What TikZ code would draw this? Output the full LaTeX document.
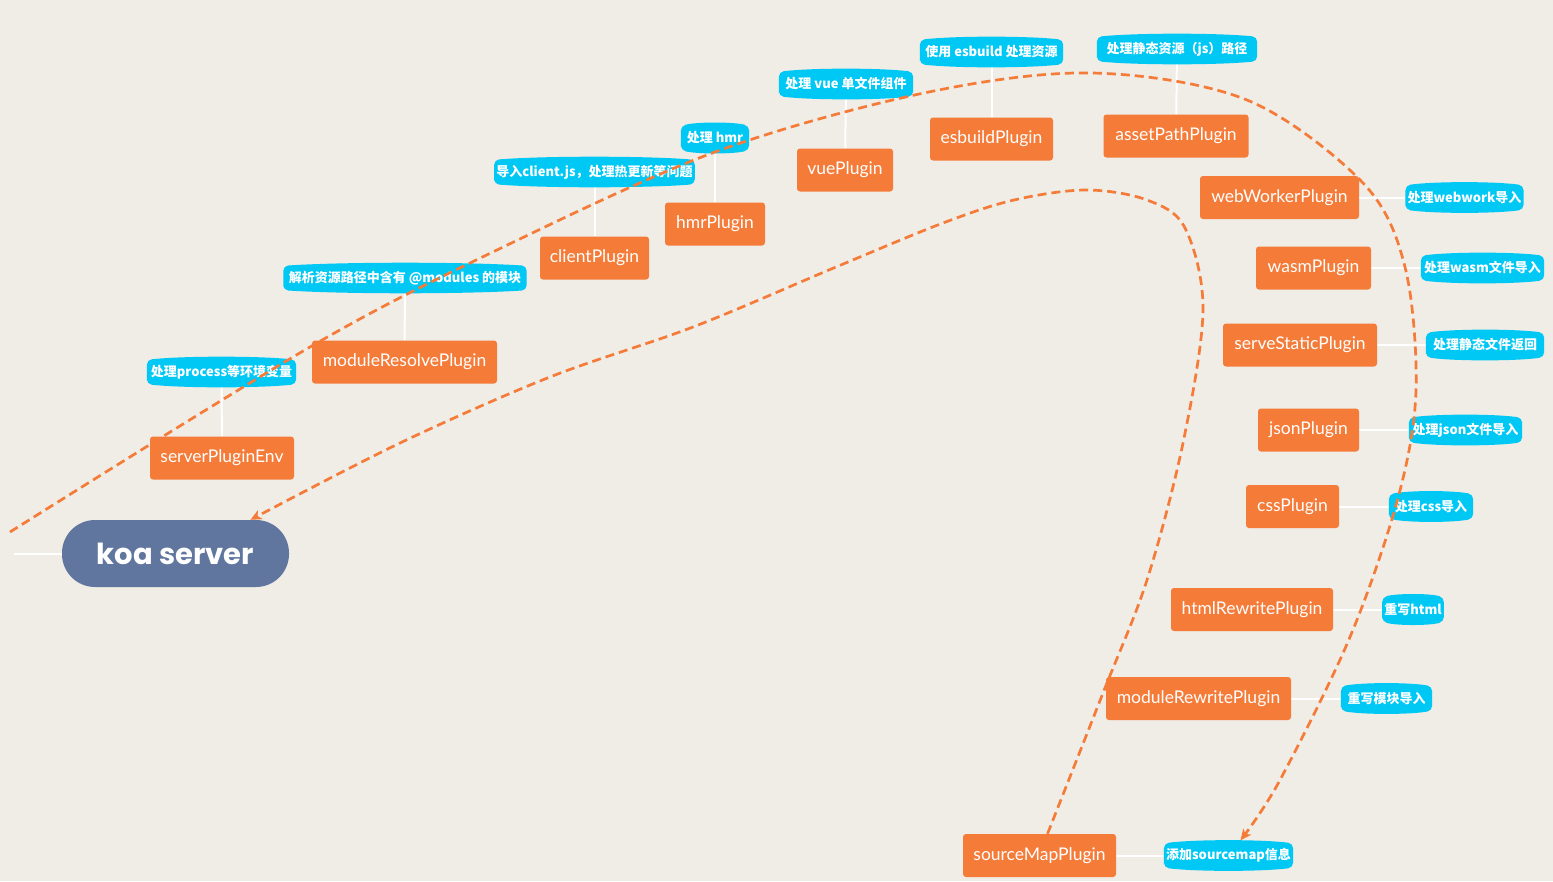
\documentclass[tikz,border=0pt]{standalone}
\usepackage{fontspec}
\setmainfont{Lato}
\newfontfamily\cjk{Noto Sans CJK SC}
\newfontfamily\koafont{Poppins}
\usetikzlibrary{arrows.meta,calc,backgrounds}
\definecolor{bgc}{HTML}{F0ECE6}
\definecolor{orc}{HTML}{F57B39}
\definecolor{blc}{HTML}{00C8F5}
\definecolor{koac}{HTML}{60769E}
\newcommand{\bulgebox}[1]{\fill[blc, rounded corners=5pt] (#1.south west) -- (#1.north west)
  .. controls ($(#1.north west)!0.25!(#1.north east)+(0,-4)$) and ($(#1.north west)!0.75!(#1.north east)+(0,-4)$) .. (#1.north east)
  -- (#1.south east)
  .. controls ($(#1.south west)!0.75!(#1.south east)+(0,4)$) and ($(#1.south west)!0.25!(#1.south east)+(0,4)$) .. cycle;}
\begin{document}
\begin{tikzpicture}[x=1pt,y=-1pt,
  plug/.style={fill=orc, text=white, rounded corners=3pt, minimum height=43pt, inner xsep=9pt, font=\fontsize{17.5}{20}\selectfont},
  note/.style={text=white, minimum height=24pt, inner xsep=2pt, inner ysep=2pt, font=\cjk\bfseries\fontsize{13}{15}\selectfont},
  link/.style={draw=white, line width=2pt},
  flow/.style={draw=orc, line width=2.7pt, dash pattern=on 9pt off 5pt, -{Stealth[length=11pt,width=10pt,inset=3pt]}}]
\useasboundingbox (0,0) rectangle (1553,881);

% central node
\node[fill=koac, text=white, rounded corners=33pt, minimum width=227pt, minimum height=67pt, font=\koafont\bfseries\fontsize{29}{32}\selectfont] (koa) at (175.5,553.5) {koa server};
\coordinate (kl) at (14,553.5);

% plugins
\node[plug, minimum width=144pt] (env) at (222,458) {serverPluginEnv};
\node[plug, minimum width=185pt] (mres) at (404.5,362) {moduleResolvePlugin};
\node[plug, minimum width=109pt] (cli) at (594.5,258) {clientPlugin};
\node[plug, minimum width=100pt] (hmr) at (715,224) {hmrPlugin};
\node[plug, minimum width=96pt] (vue) at (845,170) {vuePlugin};
\node[plug, minimum width=123pt] (esb) at (991.5,139) {esbuildPlugin};
\node[plug, minimum width=145pt] (asp) at (1176,136) {assetPathPlugin};
\node[plug, minimum width=159pt] (ww) at (1279.5,197.5) {webWorkerPlugin};
\node[plug, minimum width=115pt] (wasm) at (1313.5,268) {wasmPlugin};
\node[plug, minimum width=154pt] (sst) at (1300,345) {serveStaticPlugin};
\node[plug, minimum width=101pt] (json) at (1308.5,430) {jsonPlugin};
\node[plug, minimum width=93pt] (css) at (1292.5,506.5) {cssPlugin};
\node[plug, minimum width=162pt] (html) at (1252,609.5) {htmlRewritePlugin};
\node[plug, minimum width=185pt] (mrw) at (1198.5,698.5) {moduleRewritePlugin};
\node[plug, minimum width=153pt] (sm) at (1039.5,855.5) {sourceMapPlugin};

% notes
\node[note, minimum width=149pt] (envL) at (221.5,372) {处理process等环境变量};
\node[note, minimum width=243pt] (mresL) at (405,278) {解析资源路径中含有 @modules 的模块};
\node[note, minimum width=198pt] (cliL) at (594.5,172) {导入client.js，处理热更新等问题};
\node[note, minimum width=68pt] (hmrL) at (715,138) {处理 hmr};
\node[note, minimum width=134pt] (vueL) at (846,84) {处理 vue 单文件组件};
\node[note, minimum width=143pt] (esbL) at (991.5,52) {使用 esbuild 处理资源};
\node[note, minimum width=160pt] (aspL) at (1177,49) {处理静态资源（js）路径};
\node[note, minimum width=111pt] (wwL) at (1464.5,197.5) {处理webwork导入};
\node[note, minimum width=123pt] (wasmL) at (1482.5,268) {处理wasm文件导入};
\node[note, minimum width=118pt] (sstL) at (1485,345) {处理静态文件返回};
\node[note, minimum width=113pt] (jsonL) at (1465.5,430) {处理json文件导入};
\node[note, minimum width=84pt] (cssL) at (1431,506.5) {处理css导入};
\node[note, minimum width=60pt] (htmlL) at (1413,609.5) {重写html};
\node[note, minimum width=91pt] (mrwL) at (1386.5,698.5) {重写模块导入};
\node[note, minimum width=125pt] (smL) at (1228.5,855.5) {添加sourcemap信息};

\begin{scope}[on background layer]
\fill[bgc] (0,0) rectangle (1553,881);
% white links
\draw[link] (kl) -- (koa.west);
\draw[link] (env) -- (envL);
\draw[link] (mres) -- (mresL);
\draw[link] (cli) -- (cliL);
\draw[link] (hmr) -- (hmrL);
\draw[link] (vue) -- (vueL);
\draw[link] (esb) -- (esbL);
\draw[link] (asp) -- (aspL);
\draw[link] (ww) -- (wwL);
\draw[link] (wasm) -- (wasmL);
\draw[link] (sst) -- (sstL);
\draw[link] (json) -- (jsonL);
\draw[link] (css) -- (cssL);
\draw[link] (html) -- (htmlL);
\draw[link] (mrw) -- (mrwL);
\draw[link] (sm) -- (smL);
% label shapes
\bulgebox{envL}\bulgebox{mresL}\bulgebox{cliL}\bulgebox{hmrL}\bulgebox{vueL}
\bulgebox{esbL}\bulgebox{aspL}\bulgebox{wwL}\bulgebox{wasmL}\bulgebox{sstL}
\bulgebox{jsonL}\bulgebox{cssL}\bulgebox{htmlL}\bulgebox{mrwL}\bulgebox{smL}
\end{scope}

% dashed flows
\coordinate (ostart) at (10,532);
\coordinate (oend) at ([xshift=12pt,yshift=3pt]smL.north);
\coordinate (istart) at ([xshift=8pt]sm.north);
\coordinate (iend) at ([xshift=75pt]koa.north);
\draw[flow] plot[smooth, tension=0.55] coordinates {(ostart) (310,347) (497,250) (715,152) (924,93) (1092,73) (1247,100) (1363,183) (1405,267) (1416,390) (1398,498) (1350,637) (1280,780) (oend)};
\draw[flow] plot[smooth, tension=0.55] coordinates {(istart) (1103,693) (1147,580) (1183,443) (1203,310) (1185,228) (1147,200) (1086,190) (1014,200) (943,223) (836,267) (693,327) (550,377) (400,443) (iend)};
\end{tikzpicture}
\end{document}
